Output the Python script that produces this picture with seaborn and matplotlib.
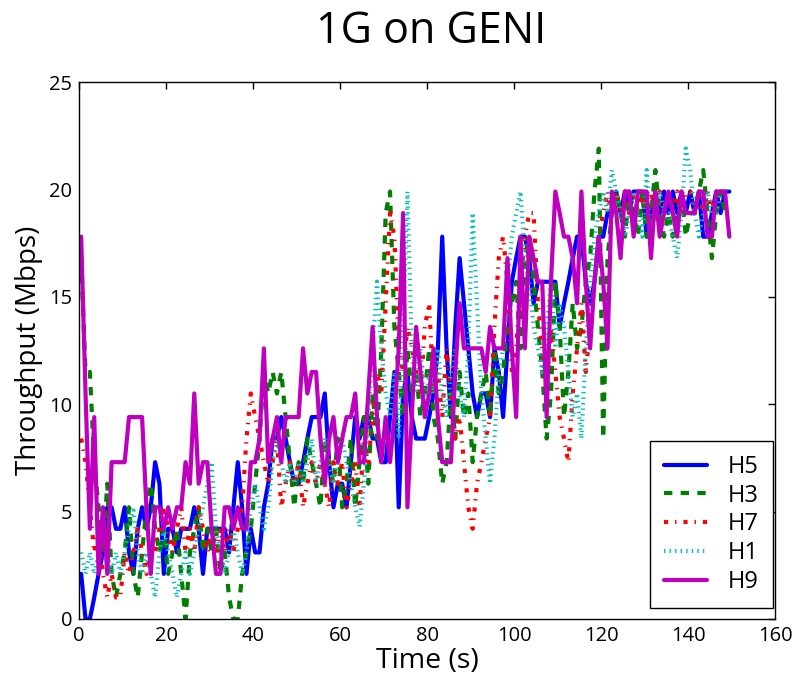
import numpy as np
import pandas as pd
import matplotlib
matplotlib.use("Agg")
import matplotlib.pyplot as plt
import seaborn as sns

# time axis (one sample per second)
time_s = np.arange(0.5, 150, 1.0)

h5 = [2.1, 0, 0, 1.0, 2.1, 3.1, 5.2, 5.2, 4.2, 4.2,
      5.2, 3.1, 2.1, 4.2, 5.2, 4.2, 5.2, 7.3, 6.3, 2.1,
      4.2, 4.2, 3.1, 4.2, 4.2, 4.2, 5.2, 4.2, 2.1, 4.2,
      4.2, 4.2, 4.2, 4.2, 3.1, 5.2, 7.3, 5.2, 2.1, 4.2,
      3.1, 3.1, 5.2, 6.3, 8.4, 8.4, 9.4, 8.4, 7.3, 6.3,
      6.3, 7.3, 8.4, 9.4, 9.4, 9.4, 10.5, 7.3, 5.2, 6.3,
      6.3, 5.2, 7.3, 9.4, 8.4, 9.4, 9.4, 8.4, 8.4, 7.3,
      7.3, 9.4, 11.5, 5.2, 10.5, 11.5, 9.4, 8.4, 8.4, 8.4,
      9.4, 10.5, 12.6, 17.8, 12.6, 9.4, 13.6, 16.8, 14.7, 12.6,
      10.5, 9.4, 10.5, 10.5, 9.4, 12.6, 11.5, 9.4, 12.6, 15.7,
      16.8, 17.8, 17.8, 16.8, 14.7, 15.7, 15.7, 15.7, 15.7, 15.7,
      13.6, 14.7, 15.7, 16.8, 17.8, 17.8, 15.7, 14.7, 15.7, 17.8,
      17.8, 18.9, 18.9, 19.9, 18.9, 19.9, 18.9, 19.9, 19.9, 19.9,
      17.8, 18.9, 19.9, 18.9, 19.9, 18.9, 19.9, 18.9, 19.9, 18.9,
      19.9, 18.9, 19.9, 17.8, 17.8, 18.9, 19.9, 18.9, 19.9, 19.9]

h3 = [16.8, 11.5, 11.5, 7.3, 5.2, 3.1, 6.3, 2.1, 1.0, 2.1,
      3.1, 5.2, 2.1, 1.0, 3.1, 5.2, 6.3, 4.2, 3.1, 4.2,
      2.1, 3.1, 4.2, 2.1, 0.0, 3.1, 4.2, 5.2, 3.1, 4.2,
      3.1, 4.2, 2.1, 3.1, 1.0, 0.0, 0.0, 2.1, 3.1, 4.2,
      6.3, 8.4, 11.5, 10.5, 11.5, 10.5, 11.5, 9.4, 7.3, 5.2,
      7.3, 6.3, 8.4, 7.3, 6.3, 5.2, 8.4, 7.3, 6.3, 8.4,
      5.2, 6.3, 8.4, 5.2, 7.3, 9.4, 6.3, 10.5, 8.4, 12.6,
      18.9, 19.9, 13.6, 11.5, 9.4, 12.6, 10.5, 11.5, 9.4, 10.5,
      12.6, 9.4, 8.4, 6.3, 7.3, 10.5, 8.4, 11.5, 9.4, 10.5,
      7.3, 9.4, 10.5, 11.5, 9.4, 12.6, 10.5, 11.5, 13.6, 14.7,
      15.7, 12.6, 16.8, 17.8, 15.7, 13.6, 11.5, 8.4, 10.5, 15.7,
      13.6, 9.4, 11.5, 14.7, 12.6, 13.6, 15.7, 16.8, 19.9, 21.9,
      8.4, 16.8, 18.9, 19.9, 18.9, 17.8, 19.9, 18.9, 17.8, 19.9,
      17.8, 18.9, 20.9, 18.9, 17.8, 18.9, 17.8, 18.9, 19.9, 17.8,
      18.9, 18.9, 19.9, 20.9, 18.9, 16.8, 18.9, 19.9, 18.9, 18.9]

h7 = [8.4, 7.3, 5.2, 3.1, 4.2, 2.1, 1.0, 2.1, 1.0, 1.0,
      3.1, 2.1, 3.1, 4.2, 3.1, 2.1, 3.1, 3.1, 4.2, 5.2,
      4.2, 3.1, 4.2, 5.2, 3.1, 4.2, 3.1, 5.2, 4.2, 3.1,
      4.2, 3.1, 4.2, 3.1, 4.2, 3.1, 4.2, 5.2, 8.4, 10.5,
      9.4, 8.4, 7.3, 6.3, 7.3, 8.4, 5.2, 6.3, 7.3, 6.3,
      7.3, 5.2, 6.3, 7.3, 6.3, 7.3, 6.3, 5.2, 7.3, 6.3,
      7.3, 5.2, 6.3, 7.3, 5.2, 8.4, 7.3, 9.4, 11.5, 10.5,
      14.7, 18.9, 17.8, 12.6, 11.5, 13.6, 12.6, 11.5, 10.5, 13.6,
      14.7, 10.5, 11.5, 9.4, 12.6, 10.5, 8.4, 9.4, 7.3, 5.2,
      4.2, 6.3, 7.3, 8.4, 9.4, 13.6, 16.8, 17.8, 15.7, 11.5,
      12.6, 15.7, 17.8, 18.9, 18.9, 14.7, 12.6, 10.5, 13.6, 11.5,
      9.4, 8.4, 7.3, 10.5, 12.6, 14.7, 11.5, 13.6, 15.7, 17.8,
      18.9, 19.9, 18.9, 19.9, 18.9, 19.9, 18.9, 19.9, 18.9, 19.9,
      18.9, 19.9, 18.9, 19.9, 18.9, 19.9, 18.9, 19.9, 18.9, 19.9,
      19.9, 18.9, 19.9, 18.9, 19.9, 18.9, 19.9, 19.9, 19.9, 19.9]

h1 = [3.1, 2.1, 3.1, 2.1, 3.1, 4.2, 3.1, 2.1, 3.1, 2.1,
      3.1, 4.2, 5.2, 3.1, 2.1, 3.1, 2.1, 1.0, 3.1, 4.2,
      3.1, 2.1, 1.0, 2.1, 3.1, 2.1, 3.1, 4.2, 5.2, 6.3,
      7.3, 4.2, 3.1, 2.1, 3.1, 4.2, 3.1, 2.1, 3.1, 5.2,
      6.3, 5.2, 4.2, 5.2, 7.3, 8.4, 7.3, 6.3, 7.3, 6.3,
      7.3, 6.3, 7.3, 8.4, 6.3, 7.3, 8.4, 7.3, 6.3, 7.3,
      8.4, 7.3, 6.3, 5.2, 4.3, 6.3, 9.4, 12.6, 15.7, 12.6,
      10.5, 9.4, 11.5, 8.4, 13.6, 19.9, 12.6, 10.5, 12.6, 9.4,
      11.5, 10.5, 12.6, 10.5, 9.4, 11.5, 12.6, 10.5, 9.4, 12.6,
      18.9, 14.7, 10.5, 8.4, 6.3, 8.4, 11.5, 12.6, 15.7, 17.8,
      18.9, 19.9, 16.8, 15.7, 13.6, 12.6, 11.5, 13.6, 15.7, 12.6,
      14.7, 13.6, 11.5, 9.4, 10.5, 8.4, 12.6, 15.7, 17.8, 18.9,
      19.9, 18.9, 20.9, 19.9, 18.9, 17.8, 18.9, 19.9, 18.9, 17.8,
      20.9, 17.8, 18.9, 19.9, 18.9, 18.9, 17.8, 16.8, 18.9, 21.9,
      20.9, 18.9, 17.8, 18.9, 19.9, 18.9, 18.9, 19.9, 19.9, 19.9]

h9 = [17.8, 10.5, 4.2, 9.4, 2.1, 5.2, 2.1, 7.3, 7.3, 7.3,
      7.3, 9.4, 9.4, 9.4, 9.4, 5.2, 2.1, 5.2, 5.2, 4.2,
      5.2, 4.2, 5.2, 5.2, 7.3, 6.3, 10.5, 6.3, 7.3, 7.3,
      4.2, 2.1, 2.1, 5.2, 5.2, 4.2, 5.2, 4.2, 4.2, 7.3,
      7.3, 8.4, 12.6, 7.3, 8.4, 9.4, 7.3, 9.4, 9.4, 9.4,
      9.4, 12.6, 10.5, 11.5, 11.5, 8.4, 6.3, 8.4, 9.4, 7.3,
      8.4, 9.4, 9.4, 10.5, 7.3, 7.3, 10.5, 13.6, 9.4, 7.3,
      9.4, 7.3, 9.4, 12.6, 18.9, 5.2, 9.4, 13.6, 11.5, 9.4,
      10.5, 12.6, 9.4, 7.3, 7.3, 7.3, 11.5, 14.7, 12.6, 12.6,
      12.6, 12.6, 12.6, 11.5, 13.6, 12.6, 12.6, 12.6, 16.8, 12.6,
      9.4, 17.8, 12.6, 17.8, 16.8, 15.7, 15.7, 9.4, 15.7, 19.9,
      18.9, 17.8, 17.8, 16.8, 14.7, 19.9, 15.7, 12.6, 15.7, 17.8,
      15.7, 12.6, 19.9, 18.9, 16.8, 19.9, 19.9, 17.8, 19.9, 19.9,
      19.9, 16.8, 19.9, 17.8, 18.9, 19.9, 18.9, 17.8, 19.9, 18.9,
      18.9, 18.9, 19.9, 19.9, 17.8, 17.8, 19.9, 19.9, 19.9, 17.8]

series_names = ["H5", "H3", "H7", "H1", "H9"]
series_values = [h5, h3, h7, h1, h9]
x_ticks = [0, 20, 40, 60, 80, 100, 120, 140, 160]
y_ticks = [0, 5, 10, 15, 20, 25]

sns.set_style("white")
plt.rcParams["font.family"] = ["Open Sans", "DejaVu Sans"]
plt.rcParams["lines.scale_dashes"] = False
plt.rcParams["xtick.direction"] = "in"
plt.rcParams["ytick.direction"] = "in"
plt.rcParams["text.color"] = "black"
plt.rcParams["axes.labelcolor"] = "black"
plt.rcParams["xtick.color"] = "black"
plt.rcParams["ytick.color"] = "black"

styles = {
    "H5": dict(color="#0000ff", dashes=None),
    "H3": dict(color="#007f00", dashes=(6, 6)),
    "H7": dict(color="#ff0000", dashes=(3, 5, 1, 5)),
    "H1": dict(color="#00bfbf", dashes=(1, 3)),
    "H9": dict(color="#bf00bf", dashes=None),
}

fig = plt.figure(figsize=(7.98, 6.74), dpi=100)
ax = fig.add_axes([79 / 798, 1 - 619 / 674, (775 - 79) / 798, (619 - 82) / 674])

for name, vals in zip(series_names, series_values):
    df = pd.DataFrame({"t": time_s, "v": vals})
    st = styles[name]
    sns.lineplot(data=df, x="t", y="v", ax=ax, color=st["color"], linewidth=3,
                 label=name, estimator=None, sort=False)
    line = ax.lines[-1]
    if st["dashes"] is not None:
        line.set_dashes(st["dashes"])
        line.set_dash_capstyle("butt")

ax.set_xlim(0, 160)
ax.set_ylim(0, 25)
ax.set_xticks(x_ticks)
ax.set_yticks(y_ticks)
ax.tick_params(axis="both", which="major", labelsize=14.5, length=5, width=1,
               direction="in", top=True, right=True, color="black",
               labelcolor="black", pad=5)
for sp in ax.spines.values():
    sp.set_color("black")
    sp.set_linewidth(1.0)

ax.set_xlabel("Time (s)", fontsize=20.5, labelpad=1, color="black")
ax.set_ylabel("Throughput (Mbps)", fontsize=20, labelpad=4, color="black")
fig.text(0.54, 0.953, "1G on GENI", fontsize=31, ha="center", va="center",
         color="black")

handles, labels = ax.get_legend_handles_labels()
leg = ax.legend(handles, labels, loc="lower right",
                bbox_to_anchor=((773 - 79) / 696, (619 - 608) / 537),
                fontsize=17, frameon=True, fancybox=False, edgecolor="black",
                framealpha=1.0, handlelength=1.8, borderaxespad=0.0,
                labelspacing=0.2, handletextpad=0.9, borderpad=0.6)
leg.get_frame().set_linewidth(1.0)
for txt in leg.get_texts():
    txt.set_color("black")

fig.savefig("out.png", dpi=100, facecolor="white")
